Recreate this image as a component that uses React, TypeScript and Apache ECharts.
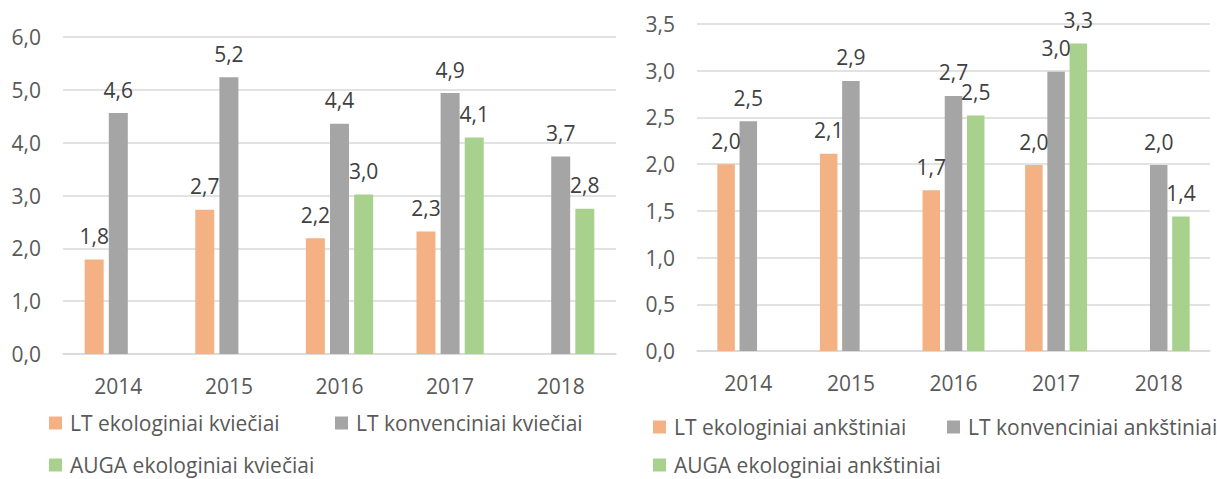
import React, { useEffect, useRef } from "react";
import * as echarts from "echarts";

const years = ["2014", "2015", "2016", "2017", "2018"];

const wheatNames = ["LT ekologiniai kviečiai", "LT konvenciniai kviečiai", "AUGA ekologiniai kviečiai"];
const wheatLtEco = [1.79, 2.73, 2.19, 2.32, null];
const wheatLtConv = [4.56, 5.24, 4.36, 4.94, 3.74];
const wheatAugaEco = [null, null, 3.02, 4.1, 2.75];

const legumeNames = ["LT ekologiniai ankštiniai", "LT konvenciniai ankštiniai", "AUGA ekologiniai ankštiniai"];
const legumeLtEco = [2.0, 2.11, 1.72, 1.99, null];
const legumeLtConv = [2.46, 2.89, 2.73, 2.99, 1.99];
const legumeAugaEco = [null, null, 2.52, 3.29, 1.44];

const leftTicks = { min: 0, max: 6, interval: 1 };
const rightTicks = { min: 0, max: 3.5, interval: 0.5 };

const COLORS = ["#F4B183", "#A5A5A5", "#A9D18E"];
const FONT = "'Open Sans', sans-serif";

const fmt = (v: number) => v.toFixed(1).replace(".", ",");

export default function App() {
  const ref = useRef<HTMLDivElement>(null);
  useEffect(() => {
    document.body.style.margin = "0";
    const chart = echarts.init(ref.current!, null, { renderer: "svg" });

    const makeX = (gridIndex: number) => ({
      type: "category",
      gridIndex,
      data: years,
      axisLine: { show: true, lineStyle: { color: "#D9D9D9", width: 1.5 } },
      axisTick: { show: false },
      axisLabel: { color: "#595959", fontSize: 21, fontFamily: FONT, margin: 21 },
    });
    const makeY = (gridIndex: number, t: { min: number; max: number; interval: number }) => ({
      type: "value",
      gridIndex,
      min: t.min,
      max: t.max,
      interval: t.interval,
      axisLine: { show: false },
      axisTick: { show: false },
      splitLine: { lineStyle: { color: "#D9D9D9", width: 1.5 } },
      axisLabel: { color: "#595959", fontSize: 21, fontFamily: FONT, margin: 22, formatter: (v: number) => fmt(v) },
    });

    const makeSeries = (name: string, data: (number | null)[], idx: number, colorIdx: number, barWidth: number) => ({
      type: "bar",
      name,
      xAxisIndex: idx,
      yAxisIndex: idx,
      data,
      barWidth,
      barGap: "27%",
      itemStyle: { color: COLORS[colorIdx] },
      label: {
        show: true,
        position: "top",
        distance: 13,
        color: "#404040",
        fontSize: 21,
        fontFamily: FONT,
        formatter: (p: any) => fmt(p.value),
      },
    });

    const legendItem = (name: string, left: number, centerY: number) => ({
      data: [name],
      left,
      top: centerY - 10.5,
      padding: 0,
      itemWidth: 13,
      itemHeight: 13,
      icon: "rect",
      selectedMode: false,
      textStyle: { color: "#595959", fontSize: 21, fontFamily: FONT, lineHeight: 21, padding: [0, 0, 0, 3] },
    });

    chart.setOption({
      animation: false,
      grid: [
        { left: 63, right: 1217 - 616, top: 37, bottom: 479 - 354 },
        { left: 697, right: 7, top: 24, bottom: 479 - 351 },
      ],
      xAxis: [makeX(0), makeX(1)],
      yAxis: [makeY(0, leftTicks), makeY(1, rightTicks)],
      legend: [
        legendItem(wheatNames[0], 49, 423),
        legendItem(wheatNames[1], 335, 423),
        legendItem(wheatNames[2], 49, 465),
        legendItem(legumeNames[0], 653, 427),
        legendItem(legumeNames[1], 947, 427),
        legendItem(legumeNames[2], 653, 465),
      ],
      series: [
        makeSeries(wheatNames[0], wheatLtEco, 0, 0, 19),
        makeSeries(wheatNames[1], wheatLtConv, 0, 1, 19),
        makeSeries(wheatNames[2], wheatAugaEco, 0, 2, 19),
        makeSeries(legumeNames[0], legumeLtEco, 1, 0, 17.5),
        makeSeries(legumeNames[1], legumeLtConv, 1, 1, 17.5),
        makeSeries(legumeNames[2], legumeAugaEco, 1, 2, 17.5),
      ],
    });
    return () => chart.dispose();
  }, []);
  return <div ref={ref} style={{ width: 1217, height: 479 }} />;
}
